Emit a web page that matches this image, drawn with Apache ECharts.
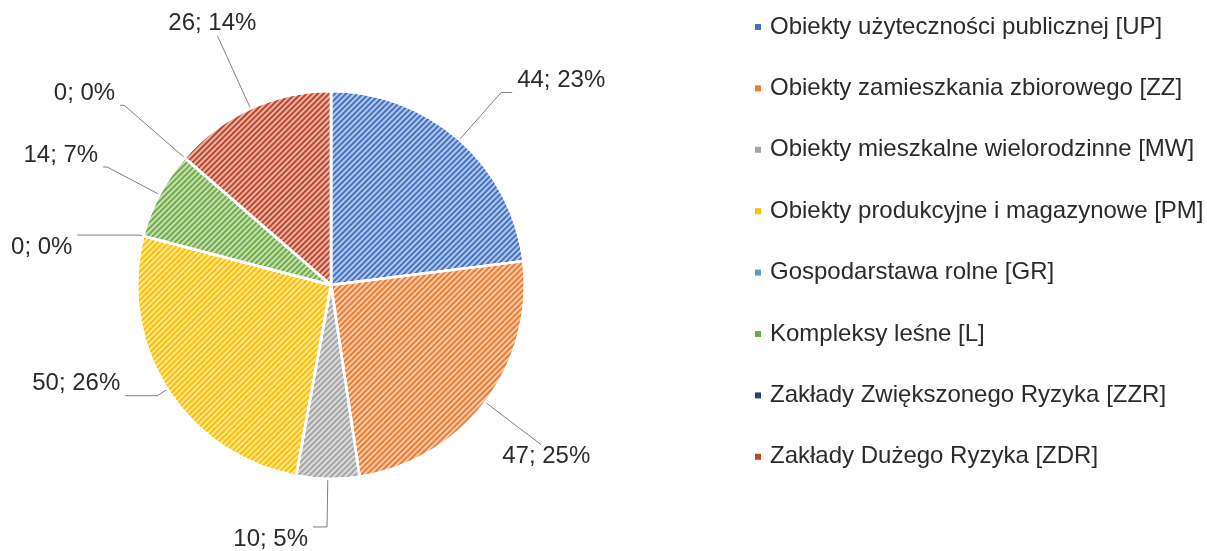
<!DOCTYPE html>
<html lang="pl">
<head>
<meta charset="UTF-8">
<title>Obiekty</title>
<script src="https://cdn.jsdelivr.net/npm/echarts@6/dist/echarts.min.js"></script>
<style>
  html, body { margin: 0; padding: 0; background: #fff; }
  #main { width: 1207px; height: 551px; }
</style>
</head>
<body>
<div id="main"></div>
<script>
var categories = [
  'Obiekty użyteczności publicznej [UP]',
  'Obiekty zamieszkania zbiorowego [ZZ]',
  'Obiekty mieszkalne wielorodzinne [MW]',
  'Obiekty produkcyjne i magazynowe [PM]',
  'Gospodarstawa rolne [GR]',
  'Kompleksy leśne [L]',
  'Zakłady Zwiększonego Ryzyka [ZZR]',
  'Zakłady Dużego Ryzyka [ZDR]'
];
var values = [44, 47, 10, 50, 0, 14, 0, 26];
var colors = ['#4472C4', '#ED7D31', '#A5A5A5', '#FFC000', '#5B9BD5', '#70AD47', '#264478', '#C0452A'];

// leader line lengths and text anchoring, one per slice (Excel-like placement)
var lineLen = [63, 70, 48, 12, 4, 59, 80, 80];
var lineLen2 = [11, 0, 14, 32, 62, 4, 4, 0];
var labelAlign = [null, 'center', null, null, null, null, null, 'center'];
var labelVAlign = ['bottom', 'top', 'top', 'bottom', 'top', 'bottom', 'bottom', 'bottom'];

var chart = echarts.init(document.getElementById('main'));
var data = [];
for (var i = 0; i < categories.length; i++) {
  data.push({
    name: categories[i],
    value: values[i],
    labelLine: { length: lineLen[i], length2: lineLen2[i] }
  });
}

chart.setOption({
  color: colors,
  legend: {
    orient: 'vertical',
    left: 750,
    top: 10,
    icon: 'rect',
    itemWidth: 6,
    itemHeight: 6,
    itemGap: 37.4,
    itemStyle: { borderWidth: 0, decal: 'none' },
    textStyle: { fontFamily: 'Liberation Sans', fontSize: 24, color: '#2b2b2b', padding: [0, 0, 0, 4] },
    data: categories
  },
  series: [{
    type: 'pie',
    center: [331, 285],
    radius: 194,
    startAngle: 90,
    percentPrecision: 0,
    avoidLabelOverlap: false,
    itemStyle: {
      borderColor: '#fff',
      borderWidth: 2.5,
      decal: {
        symbol: 'rect',
        symbolSize: 1,
        dashArrayX: [1, 0],
        dashArrayY: [2, 2],
        rotation: -Math.PI / 4,
        color: 'rgba(255,255,255,0.6)'
      }
    },
    label: {
      formatter: '{c}; {d}%',
      fontFamily: 'Liberation Sans',
      fontSize: 24,
      color: '#2b2b2b'
    },
    labelLine: {
      lineStyle: { color: '#7f7f7f', width: 1 }
    },
    labelLayout: function (params) {
      var o = { verticalAlign: labelVAlign[params.dataIndex] };
      if (labelAlign[params.dataIndex]) o.align = labelAlign[params.dataIndex];
      return o;
    },
    emphasis: { disabled: true },
    data: data
  }]
});
</script>
</body>
</html>
